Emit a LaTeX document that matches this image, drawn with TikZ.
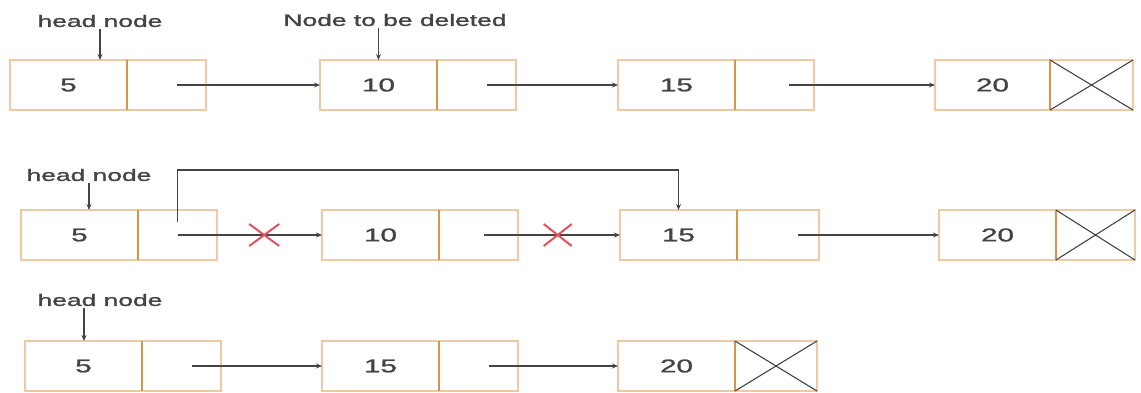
\documentclass[tikz,border=0pt]{standalone}
\usepackage{fontspec}
\setmainfont{Liberation Sans}[BoldFont={Liberation Sans},BoldFeatures={FakeBold=1.2}]
\usetikzlibrary{arrows.meta,calc,positioning}
\definecolor{boxline}{HTML}{EEC9A2}
\definecolor{divline}{HTML}{D9934A}
\definecolor{inkgray}{HTML}{444444}
\definecolor{crossred}{HTML}{E0505E}
\newcommand{\wide}[1]{\scalebox{1.6}[1]{#1}}
\tikzset{
 cell/.style={draw=boxline,line width=1.4pt,minimum width=117pt,minimum height=50pt,inner sep=0,outer sep=0,anchor=west,font=\fontsize{18.5}{20}\selectfont\bfseries,text=inkgray},
 ptrcell/.style={draw=boxline,line width=1.4pt,minimum width=79pt,minimum height=50pt,inner sep=0,outer sep=0},
 divider/.style={draw=divline,line width=2.2pt},
 link/.style={draw=inkgray,line width=1.1pt,-{Stealth[length=6pt,width=5pt]}},
 note/.style={inner sep=2pt,font=\fontsize{16.5}{18}\selectfont\bfseries,text=inkgray},
 nullx/.style={draw=inkgray,line width=1.1pt},
 redx/.style={draw=crossred,line width=2pt}
}
\begin{document}
\begin{tikzpicture}[x=1pt,y=-1pt]
\path[use as bounding box] (0,0) rectangle (1141,392);
% first list
\node[cell] (a5) at (10,85) {\wide{5}};
\node[ptrcell,right=0pt of a5] (a5p) {};
\node[cell] (a10) at (320,85) {\wide{10}};
\node[ptrcell,right=0pt of a10] (a10p) {};
\node[cell] (a15) at (618,85) {\wide{15}};
\node[ptrcell,right=0pt of a15] (a15p) {};
\node[cell,minimum width=115pt] (a20) at (935,85) {\wide{20}};
\node[ptrcell,right=0pt of a20,minimum width=83pt] (a20p) {};
\foreach \n in {a5,a10,a15,a20}
  \draw[divider] (\n.north east) -- (\n.south east);
\draw[nullx] (a20p.north west) -- (a20p.south east) (a20p.south west) -- (a20p.north east);
\draw[link] ([xshift=10pt]a5p.center) -- (a10.west);
\draw[link] ([xshift=10pt]a10p.center) -- (a15.west);
\draw[link] ([xshift=14pt]a15p.center) -- (a20.west);
\node[note] (hd1) at (100,21) {\wide{head node}};
\draw[link] (hd1.south) -- (hd1.south |- a5.north);
\node[note] (del) at (395,20) {\wide{Node to be deleted}};
\draw[link] (a10.north |- del.south) -- (a10.north);
% second list
\node[cell] (b5) at (21,235) {\wide{5}};
\node[ptrcell,right=0pt of b5] (b5p) {};
\node[cell] (b10) at (322,235) {\wide{10}};
\node[ptrcell,right=0pt of b10] (b10p) {};
\node[cell] (b15) at (620,235) {\wide{15}};
\node[ptrcell,right=0pt of b15,minimum width=82pt] (b15p) {};
\node[cell] (b20) at (939,235) {\wide{20}};
\node[ptrcell,right=0pt of b20] (b20p) {};
\foreach \n in {b5,b10,b15,b20}
  \draw[divider] (\n.north east) -- (\n.south east);
\draw[nullx] (b20p.north west) -- (b20p.south east) (b20p.south west) -- (b20p.north east);
\draw[link] (b5p.center) -- (b10.west);
\draw[link] ([xshift=5pt]b10p.center) -- (b15.west);
\draw[link] ([xshift=20pt]b15p.center) -- (b20.west);
\coordinate (bstart) at ([yshift=-12pt]b5p.north);
\draw[link] (bstart) -- ++(0,-52) -| (b15.north);
\coordinate (cut1) at ($(b5p.center)!0.6!(b10.west)$);
\coordinate (cut2) at ($(b10p.center)!0.56!(b15.west)$);
\draw[redx] ($(cut1)+(-15,-11)$) -- ($(cut1)+(15,11)$) ($(cut1)+(-15,11)$) -- ($(cut1)+(15,-11)$);
\draw[redx] ($(cut2)+(-14,-11)$) -- ($(cut2)+(14,11)$) ($(cut2)+(-14,11)$) -- ($(cut2)+(14,-11)$);
\node[note] (hd2) at (89,175) {\wide{head node}};
\draw[link] (hd2.south) -- (hd2.south |- b5.north);
% third list
\node[cell] (c5) at (25,366) {\wide{5}};
\node[ptrcell,right=0pt of c5] (c5p) {};
\node[cell] (c15) at (322,366) {\wide{15}};
\node[ptrcell,right=0pt of c15] (c15p) {};
\node[cell] (c20) at (618,366) {\wide{20}};
\node[ptrcell,right=0pt of c20,minimum width=82pt] (c20p) {};
\foreach \n in {c5,c15,c20}
  \draw[divider] (\n.north east) -- (\n.south east);
\draw[nullx] (c20p.north west) -- (c20p.south east) (c20p.south west) -- (c20p.north east);
\draw[link] ([xshift=10pt]c5p.center) -- (c15.west);
\draw[link] ([xshift=10pt]c15p.center) -- (c20.west);
\node[note] (hd3) at (100,300) {\wide{head node}};
\draw[link] ([xshift=-16pt]hd3.south) -- ([xshift=-16pt]hd3.south |- c5.north);
\end{tikzpicture}
\end{document}
